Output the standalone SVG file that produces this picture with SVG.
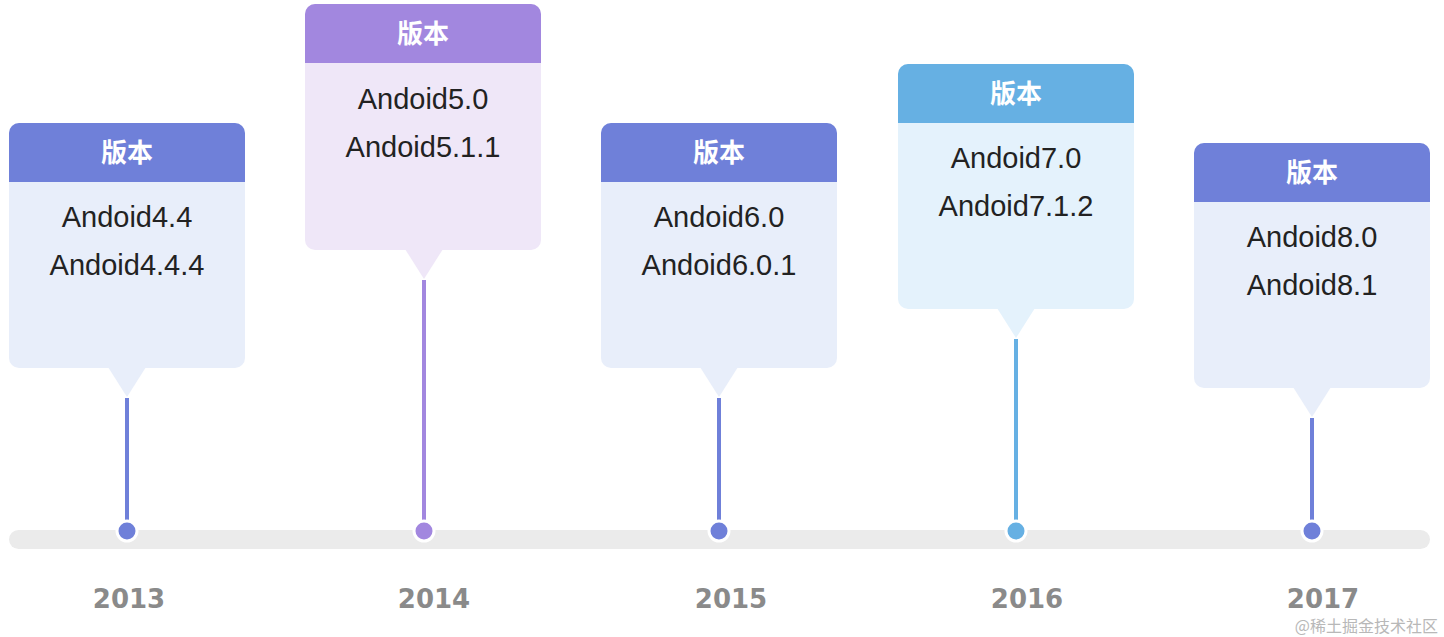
<svg xmlns="http://www.w3.org/2000/svg" width="1444" height="637" viewBox="0 0 1444 637">
<style>
.hd{font-family:"Noto Sans CJK SC","Noto Sans",sans-serif;font-weight:700;font-size:26px;fill:#fff;text-anchor:middle}
.tx{font-family:"Liberation Sans","Noto Sans",sans-serif;font-size:29px;fill:#222;text-anchor:middle}
.yr{font-family:"DejaVu Sans",sans-serif;font-weight:700;font-size:26px;fill:#8a8a8a;text-anchor:middle}
.wm{font-family:"Noto Sans CJK SC",sans-serif;font-size:16px;fill:#b8b8b8;text-anchor:end}
.b1 .body{fill:#E8EEFA}.b1 .head{fill:#6F80D9}
.p1 .body{fill:#EFE7F8}.p1 .head{fill:#A287DF}
.c1 .body{fill:#E4F2FC}.c1 .head{fill:#66B0E3}
</style>
<rect id="track" x="9" y="530" width="1421" height="19" rx="9.5" fill="#EBEBEB"/>
<g id="connectors">
<line x1="127" y1="398" x2="127" y2="522" stroke="#6F80D9" stroke-width="4"/>
<line x1="424" y1="280" x2="424" y2="522" stroke="#A287DF" stroke-width="4"/>
<line x1="719" y1="398" x2="719" y2="522" stroke="#6F80D9" stroke-width="4"/>
<line x1="1016" y1="339" x2="1016" y2="522" stroke="#66B0E3" stroke-width="4"/>
<line x1="1312" y1="418" x2="1312" y2="522" stroke="#6F80D9" stroke-width="4"/>
<circle cx="127" cy="531" r="10" fill="#6F80D9" stroke="#fff" stroke-width="3"/>
<circle cx="424" cy="531" r="10" fill="#A287DF" stroke="#fff" stroke-width="3"/>
<circle cx="719" cy="531" r="10" fill="#6F80D9" stroke="#fff" stroke-width="3"/>
<circle cx="1016" cy="531" r="10" fill="#66B0E3" stroke="#fff" stroke-width="3"/>
<circle cx="1312" cy="531" r="10" fill="#6F80D9" stroke="#fff" stroke-width="3"/>
</g>
<g id="card2013" class="b1" transform="translate(9,123)">
<rect class="body" x="0" y="0" width="236" height="245" rx="10"/>
<path class="body" d="M99 244 L137 244 L118 274 Z"/>
<path class="head" d="M0 59 V10 A10 10 0 0 1 10 0 H226 A10 10 0 0 1 236 10 V59 Z"/>
<text class="hd" x="118" y="39">版本</text>
<text class="tx" x="118" y="104">Andoid4.4</text>
<text class="tx" x="118" y="152">Andoid4.4.4</text>
</g>
<g id="card2014" class="p1" transform="translate(305,4)">
<rect class="body" x="0" y="0" width="236" height="246" rx="10"/>
<path class="body" d="M100 245 L138 245 L119 275 Z"/>
<path class="head" d="M0 59 V10 A10 10 0 0 1 10 0 H226 A10 10 0 0 1 236 10 V59 Z"/>
<text class="hd" x="118" y="39">版本</text>
<text class="tx" x="118" y="105">Andoid5.0</text>
<text class="tx" x="118" y="153">Andoid5.1.1</text>
</g>
<g id="card2015" class="b1" transform="translate(601,123)">
<rect class="body" x="0" y="0" width="236" height="245" rx="10"/>
<path class="body" d="M99 244 L137 244 L118 274 Z"/>
<path class="head" d="M0 59 V10 A10 10 0 0 1 10 0 H226 A10 10 0 0 1 236 10 V59 Z"/>
<text class="hd" x="118" y="39">版本</text>
<text class="tx" x="118" y="104">Andoid6.0</text>
<text class="tx" x="118" y="152">Andoid6.0.1</text>
</g>
<g id="card2016" class="c1" transform="translate(898,64)">
<rect class="body" x="0" y="0" width="236" height="245" rx="10"/>
<path class="body" d="M99 244 L137 244 L118 274 Z"/>
<path class="head" d="M0 59 V10 A10 10 0 0 1 10 0 H226 A10 10 0 0 1 236 10 V59 Z"/>
<text class="hd" x="118" y="39">版本</text>
<text class="tx" x="118" y="104">Andoid7.0</text>
<text class="tx" x="118" y="152">Andoid7.1.2</text>
</g>
<g id="card2017" class="b1" transform="translate(1194,143)">
<rect class="body" x="0" y="0" width="236" height="245" rx="10"/>
<path class="body" d="M99 244 L137 244 L118 274 Z"/>
<path class="head" d="M0 59 V10 A10 10 0 0 1 10 0 H226 A10 10 0 0 1 236 10 V59 Z"/>
<text class="hd" x="118" y="39">版本</text>
<text class="tx" x="118" y="104">Andoid8.0</text>
<text class="tx" x="118" y="152">Andoid8.1</text>
</g>
<g id="years">
<text class="yr" x="129" y="608">2013</text>
<text class="yr" x="434" y="608">2014</text>
<text class="yr" x="731" y="608">2015</text>
<text class="yr" x="1027" y="608">2016</text>
<text class="yr" x="1323" y="608">2017</text>
</g>
<text class="wm" x="1438" y="632">@稀土掘金技术社区</text>
</svg>
